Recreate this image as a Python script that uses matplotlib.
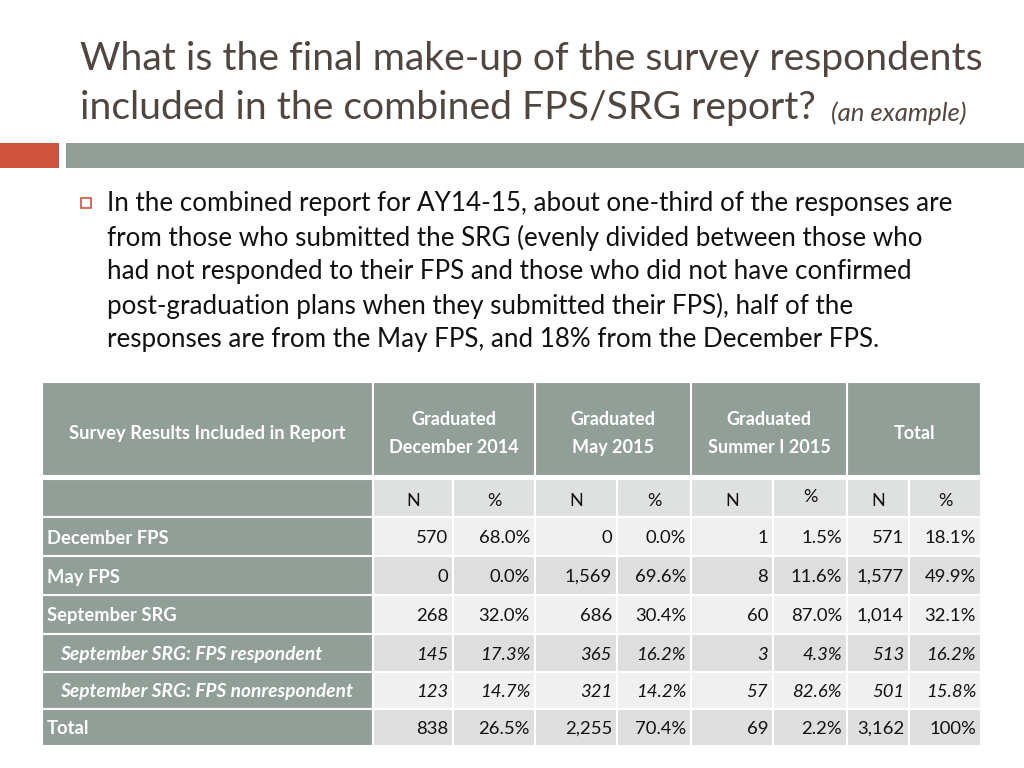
import matplotlib
matplotlib.use("Agg")
import matplotlib.pyplot as plt
import matplotlib.transforms as mtrans
from matplotlib.patches import Rectangle

# ---------------------------------------------------------------------------
# Slide text
# ---------------------------------------------------------------------------
title_lines = ["What is the final make-up of the survey respondents",
               "included in the combined FPS/SRG report?"]
title_note = "(an example)"
bullet_lines = [
    "In the combined report for AY14-15, about one-third of the responses are",
    "from those who submitted the SRG (evenly divided between those who",
    "had not responded to their FPS and those who did not have confirmed",
    "post-graduation plans when they submitted their FPS), half of the",
    "responses are from the May FPS, and 18% from the December FPS.",
]

# ---------------------------------------------------------------------------
# Table data
# ---------------------------------------------------------------------------
corner_label = "Survey Results Included in Report"
groups = ["Graduated\nDecember 2014", "Graduated\nMay 2015",
          "Graduated\nSummer I 2015", "Total"]
row_labels = ["December FPS", "May FPS", "September SRG",
              "September SRG: FPS respondent",
              "September SRG: FPS nonrespondent", "Total"]
italic_rows = [3, 4]

dec_n = [570, 0, 268, 145, 123, 838]
dec_pct = [68.0, 0.0, 32.0, 17.3, 14.7, 26.5]
may_n = [0, 1569, 686, 365, 321, 2255]
may_pct = [0.0, 69.6, 30.4, 16.2, 14.2, 70.4]
sum_n = [1, 8, 60, 3, 57, 69]
sum_pct = [1.5, 11.6, 87.0, 4.3, 82.6, 2.2]
tot_n = [571, 1577, 1014, 513, 501, 3162]
tot_pct = [18.1, 49.9, 32.1, 16.2, 15.8, 100.0]

# layout (pixels, slide is 1024 x 768)
col_edges = [42, 373, 453, 535, 617, 691, 773, 847, 909, 981]
head_top, head_bot = 382, 476
sub_top, sub_bot = 479, 517
row_edges = [517, 556, 595, 634, 672, 709, 746]

HEAD = "#919f98"
SUB = "#dfe1e0"
LIGHT = "#f0f0f0"
DARK = "#dedede"
TITLE = "#50463f"
FONT = ["Lato", "DejaVu Sans"]


def fmt_n(v):
    return f"{v:,}"


def fmt_pct(v):
    return "100%" if v == 100 else f"{v:.1f}%"


def cell(ax, x0, y0, x1, y1, color):
    ax.add_patch(Rectangle((x0, y0), x1 - x0, y1 - y0, facecolor=color,
                           edgecolor="white", linewidth=1.5))


fig = plt.figure(figsize=(10.24, 7.68), dpi=100)
ax = fig.add_axes([0, 0, 1, 1])
ax.set_xlim(0, 1024)
ax.set_ylim(768, 0)
ax.axis("off")

# title
ax.text(80, 59, title_lines[0], fontsize=28.2, color=TITLE, family=FONT,
        va="center", ha="left")
t = ax.text(80, 108, title_lines[1], fontsize=28.2, color=TITLE,
            family=FONT, va="center", ha="left")
fig.canvas.draw()
x_end = t.get_window_extent().x1
ax.text(x_end + 15, 113, title_note, fontsize=18.5, color=TITLE,
        family=FONT, style="italic", va="center", ha="left",
        transform=mtrans.blended_transform_factory(
            mtrans.IdentityTransform(), ax.transData))

# decorative bars
ax.add_patch(Rectangle((0, 143), 59, 25, facecolor="#cf543f", edgecolor="none"))
ax.add_patch(Rectangle((66, 143), 958, 25, facecolor="#919f98", edgecolor="none"))

# bullet
ax.add_patch(Rectangle((81, 198), 10, 10, facecolor="none",
                       edgecolor="#cf543f", linewidth=1.2))
for i, line in enumerate(bullet_lines):
    ax.text(107, 204 + 34 * i, line, fontsize=18.7, color="#111111",
            family=FONT, va="center", ha="left")

# table header
cell(ax, col_edges[0], head_top, col_edges[1], head_bot, HEAD)
ax.text((col_edges[0] + col_edges[1]) / 2, 434, corner_label, fontsize=13.2,
        color="white", weight="bold", family=FONT, ha="center", va="center")
for g, name in enumerate(groups):
    x0, x1 = col_edges[1 + 2 * g], col_edges[3 + 2 * g]
    cell(ax, x0, head_top, x1, head_bot, HEAD)
    ax.text((x0 + x1) / 2, 433.5, name, fontsize=13, color="white",
            weight="bold", family=FONT, ha="center", va="center",
            linespacing=1.85)

# N / % sub header
cell(ax, col_edges[0], sub_top, col_edges[1], sub_bot, HEAD)
for c in range(8):
    x0, x1 = col_edges[1 + c], col_edges[2 + c]
    cell(ax, x0, sub_top, x1, sub_bot, SUB)
    lab = "N" if c % 2 == 0 else "%"
    yy = 497 if c == 5 else 501
    ax.text((x0 + x1) / 2, yy, lab, fontsize=13, color="#111111",
            family=FONT, ha="center", va="center")

# body rows
columns = [(dec_n, fmt_n), (dec_pct, fmt_pct), (may_n, fmt_n),
           (may_pct, fmt_pct), (sum_n, fmt_n), (sum_pct, fmt_pct),
           (tot_n, fmt_n), (tot_pct, fmt_pct)]
for r, label in enumerate(row_labels):
    y0, y1 = row_edges[r], row_edges[r + 1]
    yc = (y0 + y1) / 2 + 1.5
    italic = r in italic_rows
    cell(ax, col_edges[0], y0, col_edges[1], y1, HEAD)
    ax.text(col_edges[0] + (18 if italic else 5), yc, label,
            fontsize=13.8 if italic else 13.2,
            color="white", weight="bold", family=FONT, ha="left", va="center",
            style="italic" if italic else "normal")
    bg = LIGHT if r % 2 == 0 else DARK
    for c, (vals, f) in enumerate(columns):
        x0, x1 = col_edges[1 + c], col_edges[2 + c]
        cell(ax, x0, y0, x1, y1, bg)
        ax.text(x1 - 5, yc, f(vals[r]), fontsize=13.3, color="#111111",
                family=FONT, ha="right", va="center",
                style="italic" if italic else "normal")

fig.savefig("out.png", dpi=100, facecolor="white")
